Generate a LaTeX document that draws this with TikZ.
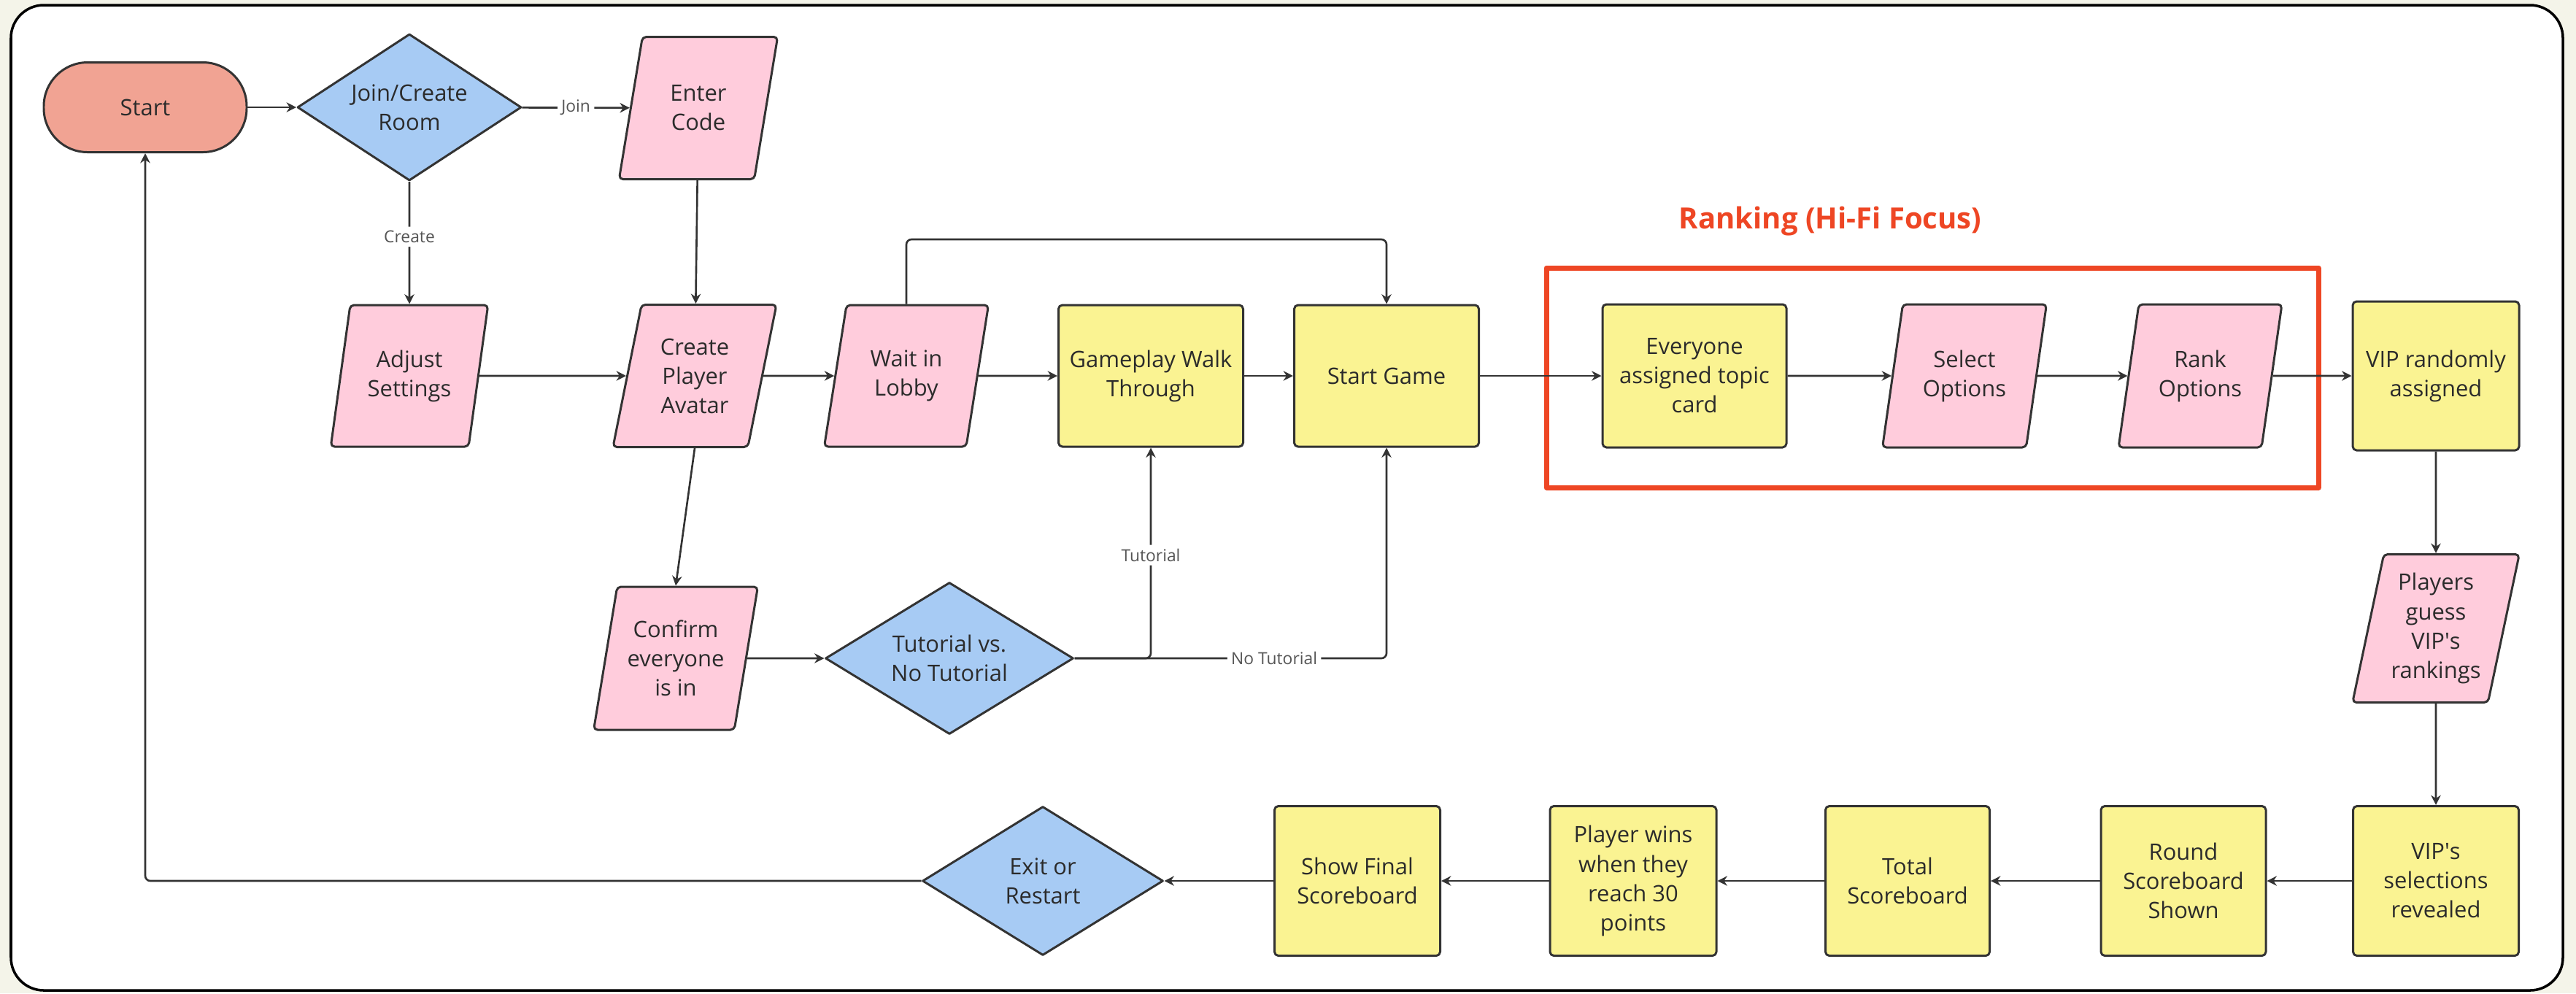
\documentclass[tikz,border=0pt]{standalone}
\usepackage{fontspec}
\setmainfont{Open Sans}
\usetikzlibrary{shapes.geometric,arrows.meta}
\definecolor{cream}{HTML}{F4F4E9}
\definecolor{startred}{HTML}{F1A393}
\definecolor{decblue}{HTML}{A7CBF4}
\definecolor{iopink}{HTML}{FFCCDC}
\definecolor{procyellow}{HTML}{FAF392}
\definecolor{rankred}{HTML}{EE4624}
\definecolor{edgegray}{HTML}{333333}
\definecolor{textgray}{HTML}{2B2B2B}
\definecolor{labelgray}{HTML}{555555}

\begin{document}
\begin{tikzpicture}[x=1cm, y=1cm, >={Stealth[length=3.8pt,width=3.8pt]}, line join=round,
	font=\fontsize{8.8}{11.4}\selectfont,
	box/.style={draw=edgegray, line width=0.85pt, align=center, text=textgray, inner sep=2pt},
	terminal/.style={box, rectangle, rounded corners=0.6cm, fill=startred},
	decision/.style={box, diamond, aspect=1.5, fill=decblue, inner sep=0pt},
	io/.style={box, trapezium, trapezium left angle=76, trapezium right angle=104,
		trapezium stretches=true, fill=iopink, rounded corners=1.5pt},
	process/.style={box, rectangle, rounded corners=1.5pt, fill=procyellow},
	flow/.style={->, draw=edgegray, line width=0.75pt, rounded corners=2pt},
	edgelabel/.style={fill=white, inner sep=1.5pt, text=labelgray, font=\fontsize{6.5}{8}\selectfont}]
	
	% 1. Nền và khung
	\useasboundingbox (0,0) rectangle (35.30,-13.61);
	\fill[cream] (0,0) rectangle (35.30,-13.61);
	\draw[fill=white, line width=1pt, rounded corners=0.45cm] (0.15,-0.07) rectangle (35.12,-13.57);
	
	% 2. Vùng Ranking
	\draw[rankred, line width=2pt] (21.19,-3.67) rectangle (31.77,-6.68);
	\node[text=rankred, font=\bfseries\fontsize{11.4}{13}\selectfont] (focustitle) at (25.08,-3.03) {Ranking (Hi-Fi Focus)};
	
	% 3. Hàng trên
	\node[terminal, minimum width=2.78cm, minimum height=1.23cm] (start) at (1.99,-1.47) {Start};
	\node[decision, minimum width=3.07cm, minimum height=2.01cm] (join) at (5.61,-1.47) {Join/Create\\Room};
	\node[io, minimum width=2.18cm, minimum height=1.95cm] (enter) at (9.57,-1.48) {Enter\\Code};
	
	% 4. Hàng giữa
	\node[io, minimum width=2.16cm, minimum height=1.94cm] (adjust) at (5.61,-5.15) {Adjust\\Settings};
	\node[io, minimum width=2.25cm, minimum height=1.95cm] (avatar) at (9.52,-5.15) {Create\\Player\\Avatar};
	\node[io, minimum width=2.26cm, minimum height=1.94cm] (wait) at (12.42,-5.15) {Wait in\\Lobby};
	\node[process, minimum width=2.53cm, minimum height=1.94cm] (walk) at (15.77,-5.15) {Gameplay Walk\\Through};
	\node[process, minimum width=2.53cm, minimum height=1.94cm] (startgame) at (19.00,-5.15) {Start Game};
	\node[process, minimum width=2.52cm, minimum height=1.96cm] (topic) at (23.22,-5.15) {Everyone\\assigned topic\\card};
	\node[io, minimum width=2.26cm, minimum height=1.96cm] (select) at (26.92,-5.15) {Select\\Options};
	\node[io, minimum width=2.25cm, minimum height=1.96cm] (rank) at (30.15,-5.15) {Rank\\Options};
	\node[process, minimum width=2.28cm, minimum height=2.04cm] (vip) at (33.38,-5.15) {VIP randomly\\assigned};
	
	% 5. Nhánh hướng dẫn
	\node[io, minimum width=2.26cm, minimum height=1.96cm] (confirm) at (9.26,-9.02) {Confirm\\everyone\\is in};
	\node[decision, minimum width=3.40cm, minimum height=2.08cm] (tut) at (13.01,-9.02) {Tutorial vs.\\No Tutorial};
	\node[io, minimum width=2.29cm, minimum height=2.03cm] (guess) at (33.38,-8.61) {Players\\guess\\VIP\textquotesingle s\\rankings};
	
	% 6. Hàng dưới
	\node[process, minimum width=2.27cm, minimum height=2.05cm] (reveal) at (33.38,-12.07) {VIP\textquotesingle s\\selections\\revealed};
	\node[process, minimum width=2.26cm, minimum height=2.05cm] (round) at (29.92,-12.07) {Round\\Scoreboard\\Shown};
	\node[process, minimum width=2.25cm, minimum height=2.05cm] (total) at (26.14,-12.07) {Total\\Scoreboard};
	\node[process, minimum width=2.28cm, minimum height=2.05cm] (wins) at (22.38,-12.07) {Player wins\\when they\\reach 30\\points};
	\node[process, minimum width=2.27cm, minimum height=2.05cm] (final) at (18.60,-12.07) {Show Final\\Scoreboard};
	\node[decision, minimum width=3.30cm, minimum height=2.04cm] (exit) at (14.29,-12.07) {Exit or\\Restart};
	
	% 7. Mũi tên
	\draw[flow] (start) -- (join);
	\draw[flow] (join) -- node[edgelabel] {Join} (enter);
	\draw[flow] (join) -- node[edgelabel, pos=0.45] {Create} (adjust);
	\draw[flow] (enter) -- (avatar);
	\draw[flow] (adjust) -- (avatar);
	\draw[flow] (avatar) -- (wait);
	\draw[flow] (wait) -- (walk);
	\draw[flow] (walk) -- (startgame);
	\draw[flow] (startgame) -- (topic);
	\draw[flow] (topic) -- (select);
	\draw[flow] (select) -- (rank);
	\draw[flow] (rank) -- (vip);
	\draw[flow] (vip) -- (guess);
	\draw[flow] (guess) -- (reveal);
	\draw[flow] (reveal) -- (round);
	\draw[flow] (round) -- (total);
	\draw[flow] (total) -- (wins);
	\draw[flow] (wins) -- (final);
	\draw[flow] (final) -- (exit);
	\draw[flow] (exit) -| (start);
	
	\coordinate (looptop) at (12.42,-3.28);
	\draw[flow] (wait.center |- wait.north) -- (looptop) -| (startgame);
	\draw[flow] (avatar.center |- avatar.south) -- (confirm.center |- confirm.north);
	\draw[flow] (confirm) -- (tut);
	\draw[flow] (tut) -| node[edgelabel, pos=0.745] {Tutorial} (walk);
	\draw[flow] (tut) -| node[edgelabel, pos=0.32] {No Tutorial} (startgame);
\end{tikzpicture}
\end{document}
